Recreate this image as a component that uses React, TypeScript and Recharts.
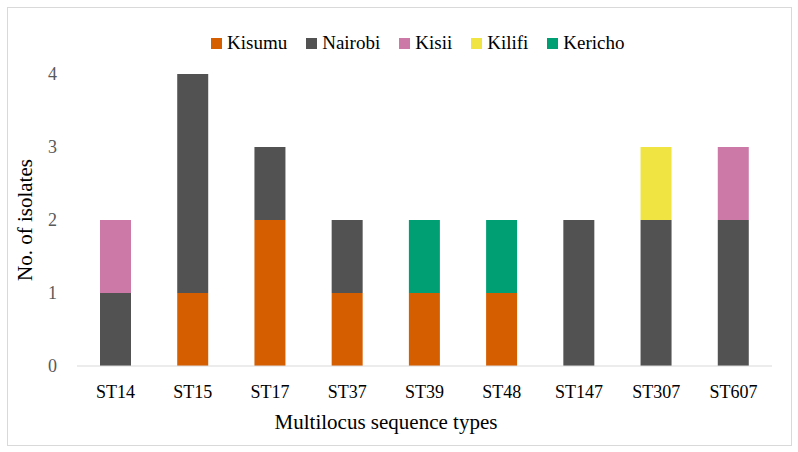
import { BarChart, Bar, XAxis, YAxis } from 'recharts'

const categories = ['ST14', 'ST15', 'ST17', 'ST37', 'ST39', 'ST48', 'ST147', 'ST307', 'ST607']
const kisumu = [0, 1, 2, 1, 1, 1, 0, 0, 0]
const nairobi = [1, 3, 1, 1, 0, 0, 2, 2, 2]
const kisii = [1, 0, 0, 0, 0, 0, 0, 0, 1]
const kilifi = [0, 0, 0, 0, 0, 0, 0, 1, 0]
const kericho = [0, 0, 0, 0, 1, 1, 0, 0, 0]
const yTicks = [0, 1, 2, 3, 4]

const series = [
  { key: 'Kisumu', values: kisumu, color: '#D55E00' },
  { key: 'Nairobi', values: nairobi, color: '#525252' },
  { key: 'Kisii', values: kisii, color: '#CC79A7' },
  { key: 'Kilifi', values: kilifi, color: '#F0E442' },
  { key: 'Kericho', values: kericho, color: '#009E73' },
]

const data = categories.map((name, i) => {
  const row: Record<string, string | number> = { name }
  series.forEach((s) => {
    row[s.key] = s.values[i]
  })
  return row
})

const font = '"Liberation Serif", serif'

function LegendBox() {
  return (
    <div
      style={{
        position: 'absolute',
        left: 211,
        top: 31,
        display: 'flex',
        fontFamily: font,
        fontSize: 19,
        lineHeight: '24px',
        color: '#000',
        whiteSpace: 'nowrap',
      }}
    >
      {series.map((s) => (
        <div key={s.key} style={{ display: 'flex', alignItems: 'center', marginRight: 19 }}>
          <span style={{ width: 11, height: 11, background: s.color, display: 'inline-block', marginRight: 5 }} />
          <span>{s.key}</span>
        </div>
      ))}
    </div>
  )
}

export default function App() {
  return (
    <div style={{ position: 'absolute', left: 0, top: 0, width: 798, height: 452, background: '#fff' }}>
      <div
        style={{
          position: 'absolute',
          left: 7,
          top: 7,
          width: 785,
          height: 439,
          border: '1px solid #d9d9d9',
          boxSizing: 'border-box',
        }}
      />
      <div style={{ position: 'absolute', left: 0, top: 0 }}>
        <BarChart
          width={798}
          height={452}
          data={data}
          margin={{ top: 74, right: 26, bottom: 20, left: 17 }}
          style={{ fontFamily: font }}
        >
          <XAxis
            dataKey="name"
            height={66}
            tickLine={false}
            axisLine={{ stroke: '#d9d9d9', strokeWidth: 1 }}
            tickSize={0}
            tickMargin={19}
            tick={{ fill: '#000', fontSize: 18, fontFamily: font }}
            label={{
              content: () => (
                <text x={386} y={429} textAnchor="middle" fontSize={21} fontFamily={font} fill="#000">
                  Multilocus sequence types
                </text>
              ),
            }}
          />
          <YAxis
            width={60}
            domain={[0, 4]}
            ticks={yTicks}
            tickLine={false}
            axisLine={false}
            tickSize={0}
            tickMargin={20}
            tick={{ fill: '#595959', fontSize: 18, fontFamily: font }}
            label={{
              content: () => (
                <text
                  x={32}
                  y={220}
                  transform="rotate(-90 32 220)"
                  textAnchor="middle"
                  fontSize={21}
                  fontFamily={font}
                  fill="#000"
                >
                  No. of isolates
                </text>
              ),
            }}
          />
          {series.map((s) => (
            <Bar
              key={s.key}
              dataKey={s.key}
              stackId="a"
              fill={s.color}
              barSize={31}
              isAnimationActive={false}
            />
          ))}
        </BarChart>
      </div>
      <LegendBox />
    </div>
  )
}
